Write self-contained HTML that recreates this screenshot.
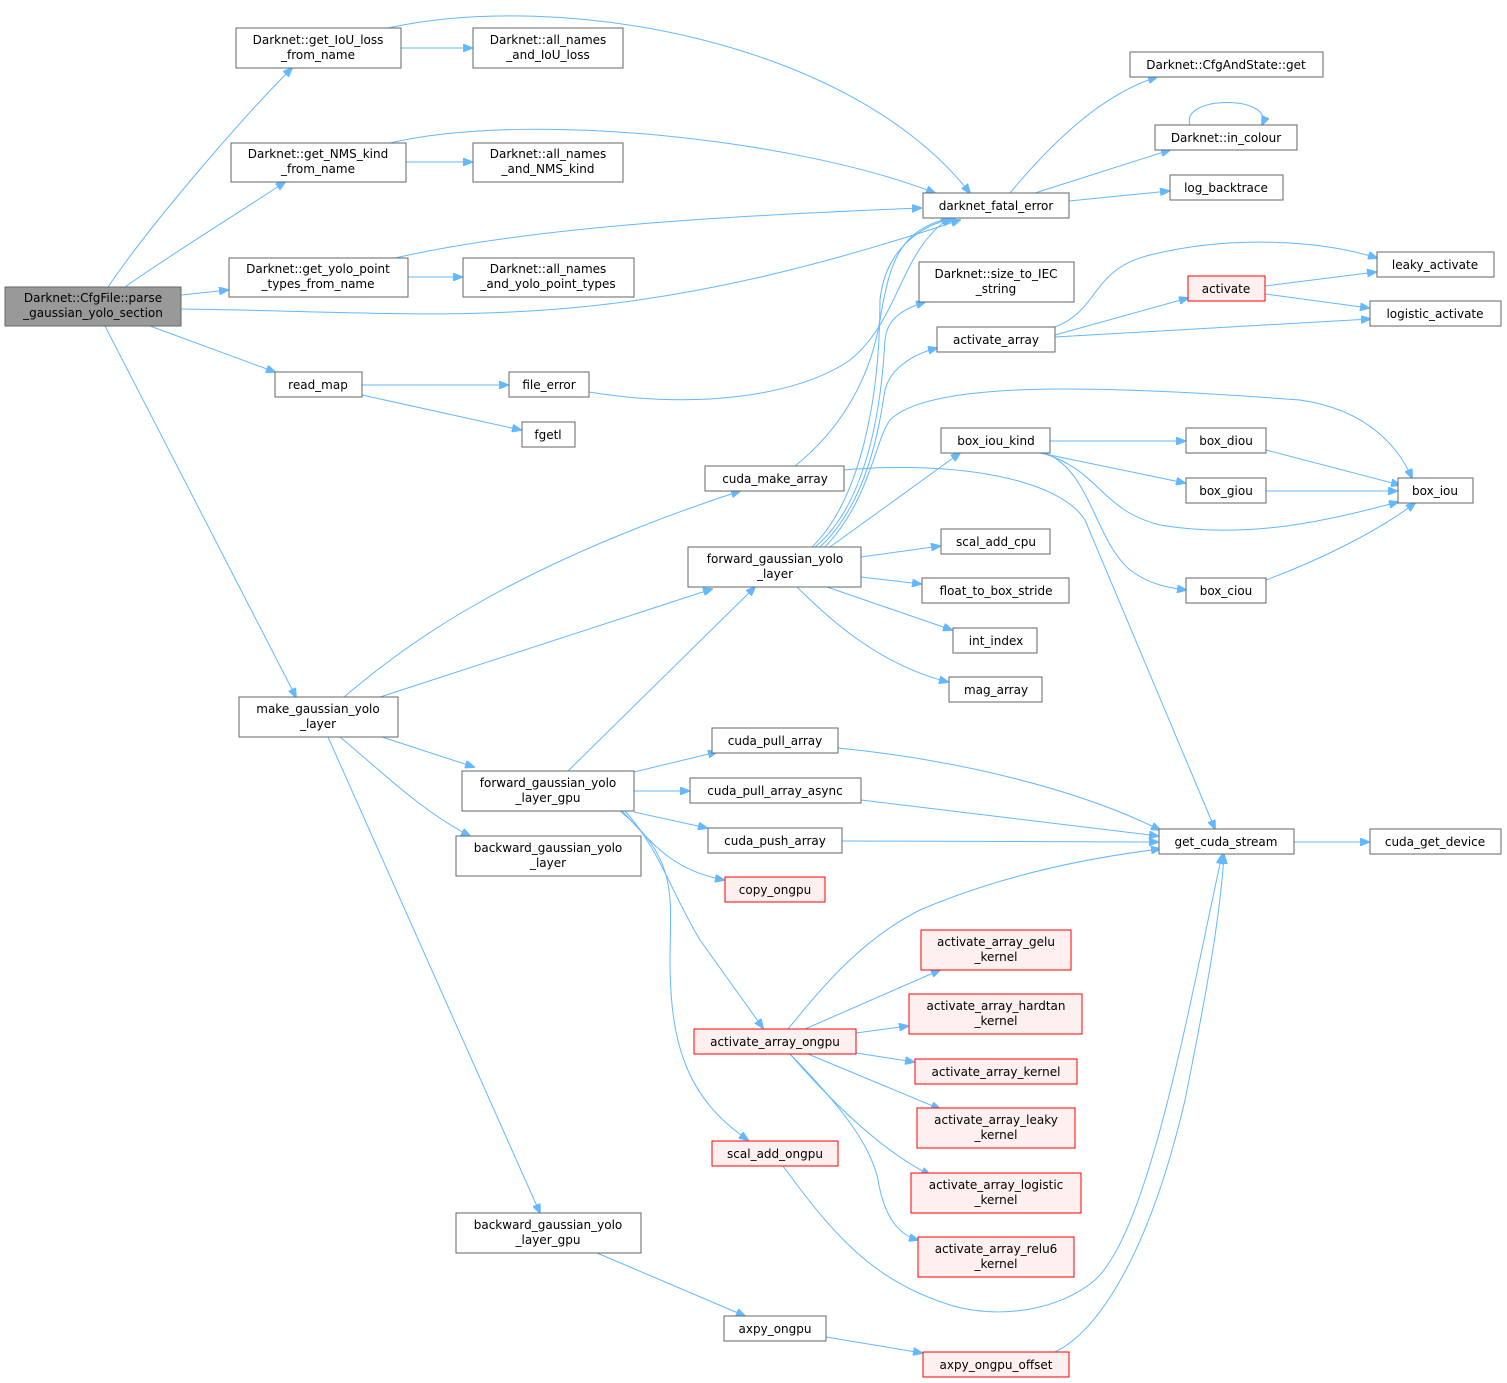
<!DOCTYPE html>
<html><head><meta charset="utf-8"><style>
body{margin:0;background:#fff}
svg{display:block}
text{font-family:"DejaVu Sans","Liberation Sans",sans-serif;font-size:12px;fill:#000;text-anchor:middle}
.n{fill:#fff;stroke:#666;stroke-width:1}
.r{fill:#fff0f0;stroke:#f00;stroke-width:1}
.g{fill:#999;stroke:#666;stroke-width:1}
path.e{fill:none;stroke:#63b8ff;stroke-width:1}
</style></head><body>
<svg width="1507" height="1383" viewBox="0 0 1507 1383" xmlns="http://www.w3.org/2000/svg">
<defs><marker id="a" markerWidth="10" markerHeight="8" refX="9" refY="4" orient="auto" markerUnits="userSpaceOnUse"><path d="M0,0 L10,4 L0,8 z" fill="#63b8ff" stroke="#63b8ff"/></marker></defs>
<g marker-end="url(#a)">
<path class="e" d="M108,287 C150,225 240,120 292,68"/>
<path class="e" d="M125,287 C170,255 240,212 285,182"/>
<path class="e" d="M181,295 L228,290"/>
<path class="e" d="M181,309 C450,312 600,340 960,220"/>
<path class="e" d="M150,326 L275,372"/>
<path class="e" d="M105,326 L296,697"/>
<path class="e" d="M401,48 L472,48"/>
<path class="e" d="M388,28 C560,-10 850,40 970,193"/>
<path class="e" d="M406,162 L472,162"/>
<path class="e" d="M390,143 C530,110 800,140 935,193"/>
<path class="e" d="M408,277 L462,277"/>
<path class="e" d="M395,258 C540,225 750,215 921,208"/>
<path class="e" d="M362,385 L508,385"/>
<path class="e" d="M362,395 L521,430"/>
<path class="e" d="M589,392 C700,410 800,395 850,360 C900,320 900,250 950,218"/>
<path class="e" d="M1010,193 C1050,145 1100,95 1157,77"/>
<path class="e" d="M1035,193 L1170,150"/>
<path class="e" d="M1069,201 L1169,191"/>
<path class="e" d="M1190,125 C1180,95 1275,95 1262,125"/>
<path class="e" d="M1055,327 C1100,310 1090,270 1150,255 C1230,235 1320,240 1377,258"/>
<path class="e" d="M1055,335 L1188,298"/>
<path class="e" d="M1055,337 L1370,319"/>
<path class="e" d="M1265,286 L1376,272"/>
<path class="e" d="M1265,294 L1369,308"/>
<path class="e" d="M1050,441 L1185,441"/>
<path class="e" d="M1040,453 L1185,483"/>
<path class="e" d="M1042,453 C1100,470 1100,510 1160,525 C1250,540 1330,520 1398,502"/>
<path class="e" d="M1045,453 C1090,470 1095,540 1130,570 C1150,585 1170,588 1186,590"/>
<path class="e" d="M1266,450 L1400,485"/>
<path class="e" d="M1266,491 L1397,491"/>
<path class="e" d="M1266,580 C1320,560 1380,530 1415,503"/>
<path class="e" d="M795,466 C840,430 870,380 880,320 C890,260 900,230 950,218"/>
<path class="e" d="M844,470 C960,460 1060,480 1085,520 L1215,829"/>
<path class="e" d="M812,547 C860,500 880,400 880,300 C885,250 920,225 955,218"/>
<path class="e" d="M815,547 C860,510 880,430 885,340 C887,320 900,310 925,302"/>
<path class="e" d="M820,547 C870,500 880,420 885,390 C890,370 910,355 937,348"/>
<path class="e" d="M825,547 C870,500 875,440 890,420 C930,380 1100,385 1300,400 C1370,410 1400,450 1412,478"/>
<path class="e" d="M830,547 L960,453"/>
<path class="e" d="M861,557 L940,546"/>
<path class="e" d="M861,577 L921,584"/>
<path class="e" d="M827,587 L952,630"/>
<path class="e" d="M797,587 C830,620 880,665 948,682"/>
<path class="e" d="M344,697 C400,650 500,570 740,491"/>
<path class="e" d="M380,697 L712,589"/>
<path class="e" d="M382,737 L474,767"/>
<path class="e" d="M340,737 C380,770 420,810 470,836"/>
<path class="e" d="M328,737 L540,1213"/>
<path class="e" d="M568,771 L755,587"/>
<path class="e" d="M634,772 L717,752"/>
<path class="e" d="M634,791 L689,791"/>
<path class="e" d="M634,812 L707,828"/>
<path class="e" d="M622,811 C650,840 670,870 724,880"/>
<path class="e" d="M625,811 C660,850 670,890 700,940 L763,1028"/>
<path class="e" d="M620,811 C680,860 670,900 670,960 C670,1050 690,1100 748,1140"/>
<path class="e" d="M838,748 C960,760 1080,790 1160,830"/>
<path class="e" d="M861,800 L1158,836"/>
<path class="e" d="M842,841 L1158,842"/>
<path class="e" d="M1294,842 L1369,842"/>
<path class="e" d="M788,1029 C820,990 860,940 920,910 C990,880 1070,860 1160,849"/>
<path class="e" d="M805,1029 L940,970"/>
<path class="e" d="M856,1033 L908,1026"/>
<path class="e" d="M856,1053 L914,1062"/>
<path class="e" d="M808,1054 L940,1109"/>
<path class="e" d="M790,1054 C830,1100 880,1150 930,1175"/>
<path class="e" d="M790,1054 C830,1095 870,1140 878,1180 C885,1220 900,1235 918,1240"/>
<path class="e" d="M783,1166 C830,1230 870,1280 950,1305 C1000,1320 1060,1310 1095,1280 C1150,1230 1190,1000 1222,855"/>
<path class="e" d="M597,1253 L745,1316"/>
<path class="e" d="M826,1337 L922,1353"/>
<path class="e" d="M1055,1352 C1100,1330 1150,1250 1185,1100 C1205,1000 1220,920 1224,855"/>
</g>
<g>
<rect class="g" x="5" y="287" width="176" height="39"/><text x="93" y="302">Darknet::CfgFile::parse</text><text x="93" y="317">_gaussian_yolo_section</text>
<rect class="n" x="236" y="28" width="165" height="40"/><text x="318" y="44">Darknet::get_IoU_loss</text><text x="318" y="59">_from_name</text>
<rect class="n" x="473" y="28" width="150" height="40"/><text x="548" y="44">Darknet::all_names</text><text x="548" y="59">_and_IoU_loss</text>
<rect class="n" x="231" y="143" width="175" height="39"/><text x="318" y="158">Darknet::get_NMS_kind</text><text x="318" y="173">_from_name</text>
<rect class="n" x="473" y="143" width="150" height="39"/><text x="548" y="158">Darknet::all_names</text><text x="548" y="173">_and_NMS_kind</text>
<rect class="n" x="229" y="258" width="179" height="39"/><text x="318" y="273">Darknet::get_yolo_point</text><text x="318" y="288">_types_from_name</text>
<rect class="n" x="463" y="258" width="171" height="39"/><text x="548" y="273">Darknet::all_names</text><text x="548" y="288">_and_yolo_point_types</text>
<rect class="n" x="275" y="372" width="87" height="25"/><text x="318" y="389">read_map</text>
<rect class="n" x="509" y="372" width="80" height="25"/><text x="549" y="389">file_error</text>
<rect class="n" x="522" y="422" width="53" height="25"/><text x="548" y="439">fgetl</text>
<rect class="n" x="923" y="193" width="146" height="25"/><text x="996" y="210">darknet_fatal_error</text>
<rect class="n" x="1130" y="52" width="193" height="25"/><text x="1226" y="69">Darknet::CfgAndState::get</text>
<rect class="n" x="1155" y="125" width="142" height="25"/><text x="1226" y="142">Darknet::in_colour</text>
<rect class="n" x="1170" y="175" width="113" height="25"/><text x="1226" y="192">log_backtrace</text>
<rect class="n" x="919" y="262" width="155" height="40"/><text x="996" y="278">Darknet::size_to_IEC</text><text x="996" y="293">_string</text>
<rect class="n" x="937" y="327" width="118" height="25"/><text x="996" y="344">activate_array</text>
<rect class="r" x="1188" y="276" width="77" height="25"/><text x="1226" y="293">activate</text>
<rect class="n" x="1377" y="252" width="117" height="25"/><text x="1435" y="269">leaky_activate</text>
<rect class="n" x="1370" y="301" width="131" height="25"/><text x="1435" y="318">logistic_activate</text>
<rect class="n" x="941" y="428" width="109" height="25"/><text x="996" y="445">box_iou_kind</text>
<rect class="n" x="1186" y="428" width="80" height="25"/><text x="1226" y="445">box_diou</text>
<rect class="n" x="1186" y="478" width="80" height="25"/><text x="1226" y="495">box_giou</text>
<rect class="n" x="1398" y="478" width="75" height="25"/><text x="1435" y="495">box_iou</text>
<rect class="n" x="1186" y="578" width="80" height="25"/><text x="1226" y="595">box_ciou</text>
<rect class="n" x="705" y="466" width="139" height="25"/><text x="775" y="483">cuda_make_array</text>
<rect class="n" x="688" y="547" width="173" height="40"/><text x="775" y="563">forward_gaussian_yolo</text><text x="775" y="578">_layer</text>
<rect class="n" x="941" y="529" width="109" height="25"/><text x="996" y="546">scal_add_cpu</text>
<rect class="n" x="922" y="578" width="147" height="25"/><text x="996" y="595">float_to_box_stride</text>
<rect class="n" x="953" y="628" width="84" height="25"/><text x="996" y="645">int_index</text>
<rect class="n" x="949" y="677" width="93" height="25"/><text x="996" y="694">mag_array</text>
<rect class="n" x="239" y="697" width="159" height="40"/><text x="318" y="713">make_gaussian_yolo</text><text x="318" y="728">_layer</text>
<rect class="n" x="462" y="771" width="172" height="40"/><text x="548" y="787">forward_gaussian_yolo</text><text x="548" y="802">_layer_gpu</text>
<rect class="n" x="712" y="728" width="126" height="25"/><text x="775" y="745">cuda_pull_array</text>
<rect class="n" x="690" y="778" width="171" height="25"/><text x="775" y="795">cuda_pull_array_async</text>
<rect class="n" x="708" y="828" width="134" height="25"/><text x="775" y="845">cuda_push_array</text>
<rect class="r" x="725" y="877" width="100" height="25"/><text x="775" y="894">copy_ongpu</text>
<rect class="n" x="1159" y="829" width="135" height="25"/><text x="1226" y="846">get_cuda_stream</text>
<rect class="n" x="1370" y="829" width="131" height="25"/><text x="1435" y="846">cuda_get_device</text>
<rect class="n" x="456" y="836" width="185" height="40"/><text x="548" y="852">backward_gaussian_yolo</text><text x="548" y="867">_layer</text>
<rect class="r" x="921" y="930" width="150" height="40"/><text x="996" y="946">activate_array_gelu</text><text x="996" y="961">_kernel</text>
<rect class="r" x="909" y="994" width="173" height="40"/><text x="996" y="1010">activate_array_hardtan</text><text x="996" y="1025">_kernel</text>
<rect class="r" x="915" y="1059" width="162" height="25"/><text x="996" y="1076">activate_array_kernel</text>
<rect class="r" x="917" y="1108" width="158" height="40"/><text x="996" y="1124">activate_array_leaky</text><text x="996" y="1139">_kernel</text>
<rect class="r" x="911" y="1173" width="170" height="40"/><text x="996" y="1189">activate_array_logistic</text><text x="996" y="1204">_kernel</text>
<rect class="r" x="918" y="1237" width="156" height="40"/><text x="996" y="1253">activate_array_relu6</text><text x="996" y="1268">_kernel</text>
<rect class="r" x="694" y="1029" width="162" height="25"/><text x="775" y="1046">activate_array_ongpu</text>
<rect class="r" x="712" y="1141" width="126" height="25"/><text x="775" y="1158">scal_add_ongpu</text>
<rect class="n" x="456" y="1213" width="185" height="40"/><text x="548" y="1229">backward_gaussian_yolo</text><text x="548" y="1244">_layer_gpu</text>
<rect class="n" x="724" y="1316" width="102" height="25"/><text x="775" y="1333">axpy_ongpu</text>
<rect class="r" x="923" y="1352" width="146" height="25"/><text x="996" y="1369">axpy_ongpu_offset</text>
</g>
</svg>
</body></html>
